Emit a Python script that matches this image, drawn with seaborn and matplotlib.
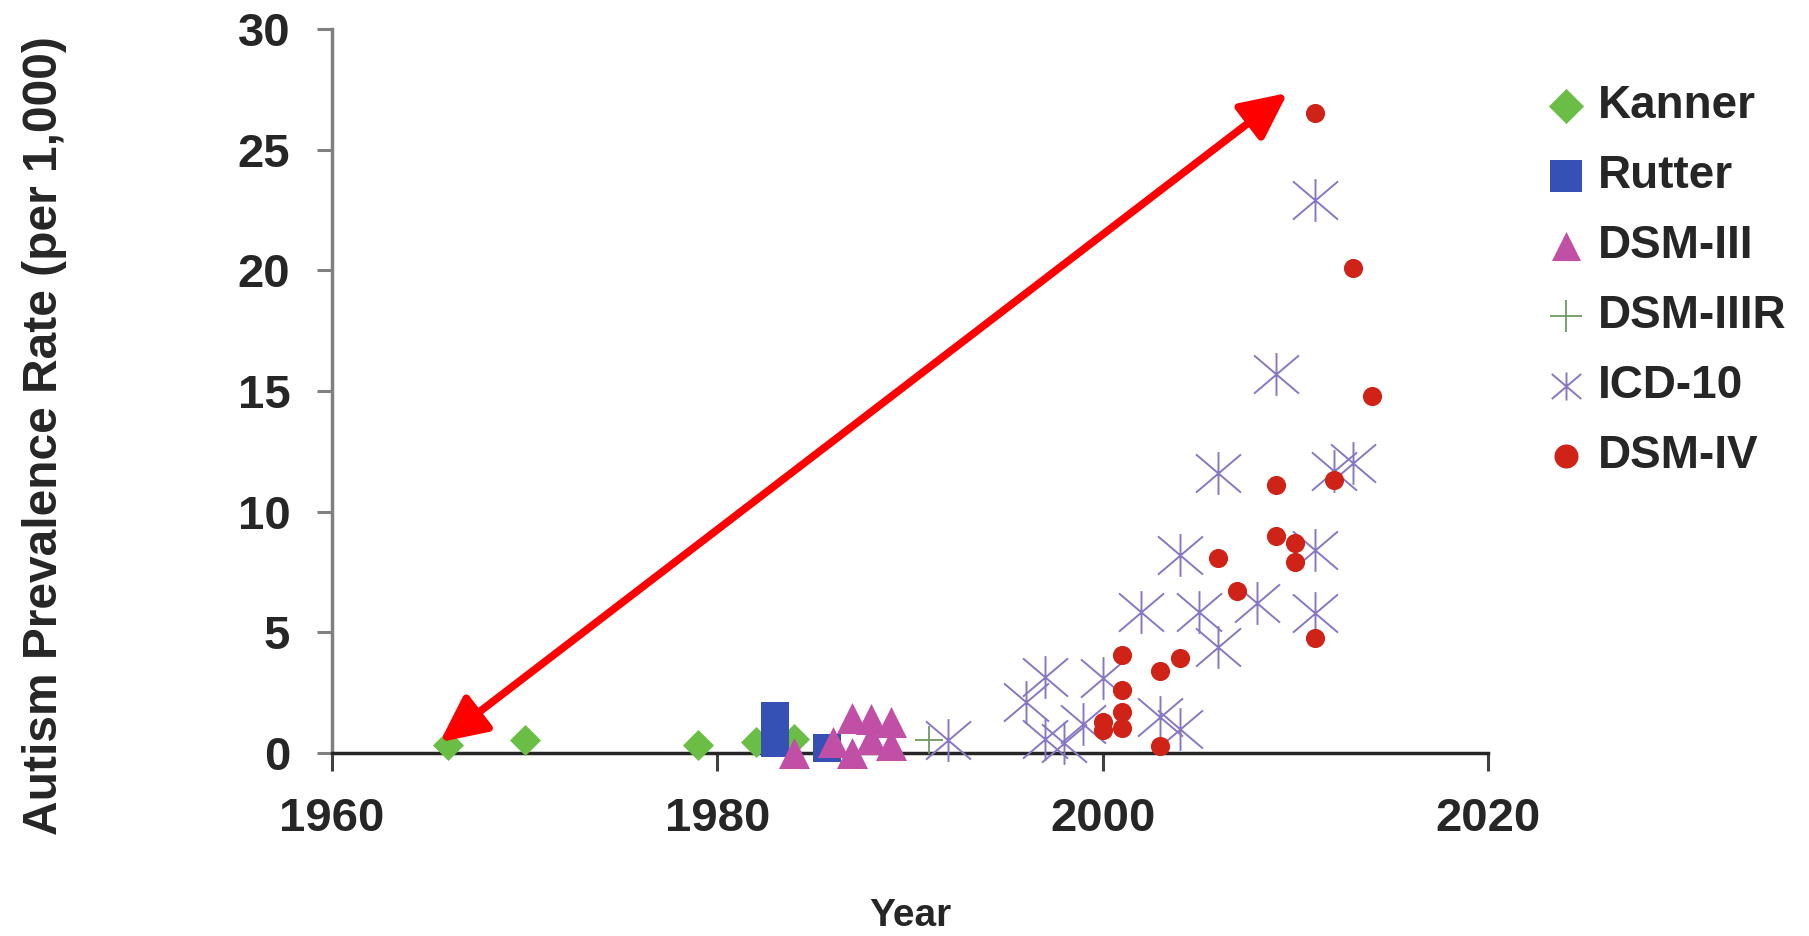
import numpy as np
import matplotlib
matplotlib.use("Agg")
import matplotlib.pyplot as plt
import seaborn as sns
from matplotlib.path import Path

# --- data (year, prevalence per 1,000) ---
kanner_year = [1966, 1970, 1979, 1982, 1984]
kanner_rate = [0.35, 0.55, 0.35, 0.45, 0.6]

rutter_year = [1983, 1983, 1985.7]
rutter_rate = [1.55, 0.4, 0.2]

dsm3_year = [1984, 1986, 1987, 1987, 1988, 1988, 1989, 1989]
dsm3_rate = [0.0, 0.45, 0.0, 1.45, 1.4, 0.6, 1.3, 0.35]

dsm3r_year = [1991]
dsm3r_rate = [0.55]

icd10_year = [1992, 1996, 1997, 1997, 1998, 1999, 2000, 2002, 2003, 2004, 2004,
              2005, 2006, 2006, 2008, 2009, 2011, 2011, 2011, 2012, 2013]
icd10_rate = [0.55, 2.1, 3.15, 0.6, 0.4, 1.2, 3.1, 5.85, 1.5, 1.0, 8.2,
              5.85, 11.6, 4.4, 6.2, 15.7, 22.9, 8.4, 5.8, 11.7, 12.0]

dsm4_year = [2000, 2000, 2001, 2001, 2001, 2001, 2003, 2003, 2004, 2006,
             2007, 2009, 2009, 2010, 2010, 2011, 2011, 2012, 2013, 2014]
dsm4_rate = [1.3, 0.95, 4.05, 2.6, 1.7, 1.05, 3.4, 0.3, 3.95, 8.1,
             6.7, 11.1, 9.0, 8.7, 7.9, 4.75, 26.5, 11.3, 20.1, 14.8]

x_ticks = [1960, 1980, 2000, 2020]
y_ticks = [0, 5, 10, 15, 20, 25, 30]

# arrow end points (annotation)
arrow_low = (1965.6, 0.45)
arrow_high = (2009.6, 27.35)

# asterisk marker like the Excel one: vertical bar + wide X
asterisk = Path(
    [(0, -0.95), (0, 0.95), (-1, -0.85), (1, 0.85), (-1, 0.85), (1, -0.85)],
    [Path.MOVETO, Path.LINETO, Path.MOVETO, Path.LINETO, Path.MOVETO, Path.LINETO],
)

sns.set_style("white")
plt.rcParams['font.family'] = ['Liberation Sans', 'DejaVu Sans']
plt.rcParams['font.weight'] = 'bold'

fig = plt.figure(figsize=(18.09, 9.36), dpi=100)
ax = fig.add_axes([0.1835, 0.1955, 0.639, 0.7735])

series = [
    ("Kanner", kanner_year, kanner_rate, "D", "#6BBE45", 250, 0),
    ("Rutter", rutter_year, rutter_rate, "s", "#3551B5", 420, 0),
    ("DSM-III", dsm3_year, dsm3_rate, "^", "#C24FA6", 500, 0),
    ("DSM-IIIR", dsm3r_year, dsm3r_rate, "+", "#6E9A5E", 420, 1.3),
    ("ICD-10", icd10_year, icd10_rate, asterisk, "#8878C3", 1050, 1.4),
    ("DSM-IV", dsm4_year, dsm4_rate, "o", "#CF2318", 190, 0),
]

for name, xs, ys, mk, col, size, lw in series:
    if lw > 0:
        sns.scatterplot(x=xs, y=ys, marker=mk, color=col, edgecolor=col,
                        s=size, linewidth=lw, ax=ax, label=name, zorder=3,
                        clip_on=False)
    else:
        sns.scatterplot(x=xs, y=ys, marker=mk, color=col, s=size,
                        linewidth=0, ax=ax, label=name, zorder=3, clip_on=False)

ax.annotate("", xy=arrow_high, xytext=arrow_low,
            arrowprops=dict(arrowstyle="<|-|>,head_length=2.8,head_width=1.35",
                            mutation_scale=10, lw=5.5, color="#FF0000",
                            shrinkA=0, shrinkB=0), zorder=5)

ax.set_xlim(1960, 2020)
ax.set_ylim(0, 30)
ax.set_xticks(x_ticks)
ax.set_yticks(y_ticks)
ax.tick_params(axis='x', labelsize=34, length=13, width=2.2, pad=19,
               direction='out', color='#404040', bottom=True)
ax.tick_params(axis='y', labelsize=34, length=11, width=2.2, pad=19,
               direction='out', color='#808080', left=True)
for lab in ax.get_xticklabels() + ax.get_yticklabels():
    lab.set_fontweight('bold')

for side in ['top', 'right']:
    ax.spines[side].set_visible(False)
ax.spines['left'].set_color('#808080')
ax.spines['left'].set_linewidth(2.5)
ax.spines['bottom'].set_color('#262626')
ax.spines['bottom'].set_linewidth(2.5)
ax.spines['left'].set_zorder(1)
ax.spines['bottom'].set_zorder(1)

ax.set_xlabel("Year", fontsize=28, fontweight='bold')
ax.xaxis.set_label_coords(0.5, -0.200)
ax.set_ylabel("Autism Prevalence Rate (per 1,000)", fontsize=34.5, fontweight='bold')
ax.yaxis.label.set_va('center')
ax.yaxis.set_label_coords(-0.249, 0.438)

if ax.legend_:
    ax.legend_.remove()
handles, labels = ax.get_legend_handles_labels()
leg = fig.legend(handles, labels, loc='upper left', bbox_to_anchor=(0.843, 0.930),
                 bbox_transform=fig.transFigure, frameon=False, fontsize=33,
                 handlelength=1.0, handletextpad=0.2, labelspacing=0.57,
                 borderpad=0.4, borderaxespad=0)
legend_sizes = [320, 520, 440, 500, 450, 300]
for h, sz in zip(leg.legend_handles, legend_sizes):
    h.set_sizes([sz])
for t in leg.get_texts():
    t.set_fontweight('bold')

fig.savefig("out.png", dpi=100, facecolor='white')
